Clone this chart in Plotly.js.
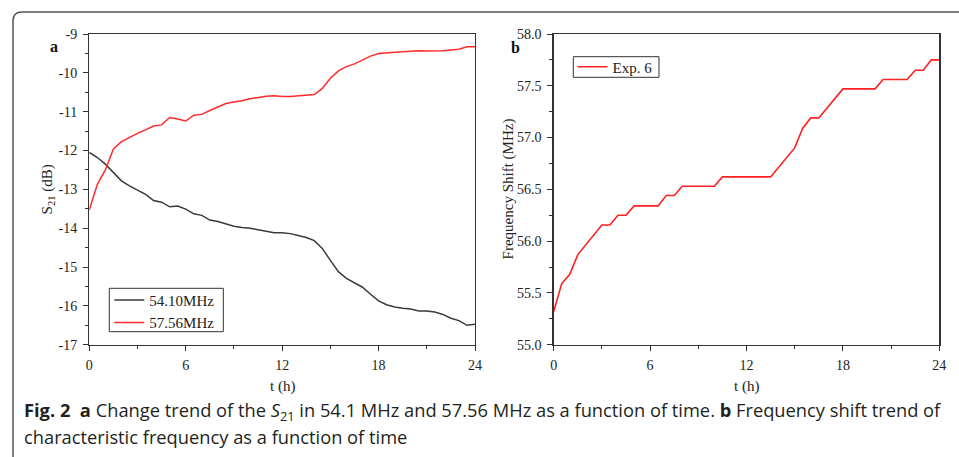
<!DOCTYPE html>
<html>
<head>
<meta charset="utf-8">
<script src="https://cdn.plot.ly/plotly-3.0.1.min.js"></script>
<style>html,body{margin:0;padding:0;background:#fff;}#chart{width:959px;height:457px;}</style>
</head>
<body>
<div id="chart"></div>
<script>
// ---- data ----
const timeHalfHours = [0,0.5,1,1.5,2,2.5,3,3.5,4,4.5,5,5.5,6,6.5,7,7.5,8,8.5,9,9.5,10,10.5,11,11.5,12,12.5,13,13.5,14,14.5,15,15.5,16,16.5,17,17.5,18,18.5,19,19.5,20,20.5,21,21.5,22,22.5,23,23.5,24];
const s21_5410 = [-12.05,-12.18,-12.35,-12.57,-12.78,-12.91,-13.02,-13.13,-13.29,-13.33,-13.45,-13.43,-13.51,-13.63,-13.67,-13.79,-13.83,-13.90,-13.95,-13.98,-14.00,-14.04,-14.08,-14.12,-14.12,-14.14,-14.19,-14.24,-14.32,-14.52,-14.83,-15.12,-15.29,-15.40,-15.52,-15.70,-15.87,-15.97,-16.03,-16.06,-16.08,-16.13,-16.13,-16.16,-16.22,-16.32,-16.38,-16.50,-16.47];
const s21_5756 = [-13.53,-12.87,-12.50,-11.96,-11.77,-11.66,-11.56,-11.47,-11.37,-11.34,-11.15,-11.19,-11.24,-11.09,-11.07,-10.97,-10.88,-10.79,-10.75,-10.72,-10.67,-10.63,-10.60,-10.59,-10.61,-10.61,-10.59,-10.58,-10.56,-10.40,-10.14,-9.95,-9.84,-9.77,-9.67,-9.57,-9.50,-9.48,-9.47,-9.46,-9.45,-9.43,-9.44,-9.44,-9.43,-9.41,-9.39,-9.33,-9.33];

const timeExp6 = [0,0.5,1,1.5,3,3.5,4,4.5,5,6.5,7,7.5,8,10,10.5,13.5,15,15.5,16,16.5,18,20,20.5,22,22.5,23,23.5,24];
const freqExp6 = [55.32,55.59,55.68,55.87,56.156,56.156,56.25,56.25,56.34,56.34,56.44,56.44,56.53,56.53,56.62,56.62,56.90,57.09,57.19,57.19,57.47,57.47,57.56,57.56,57.65,57.65,57.75,57.75];

const xTickVals = [0,6,12,18,24];
const s21TickVals = [-17,-16,-15,-14,-13,-12,-11,-10,-9];
const s21TickText = ['-17','-16','-15','-14','-13','-12','-11','-10','-9'];
const freqTickVals = [55,55.5,56,56.5,57,57.5,58];
const freqTickText = ['55.0','55.5','56.0','56.5','57.0','57.5','58.0'];

// ---- layout helpers ----
const W = 959, H = 457;
const px = v => v / W;
const py = v => 1 - v / H;

const serif = '"Liberation Serif", "Times New Roman", serif';
const axisCol = '#333333';
const tickFont = {family: serif, size: 14, color: '#222'};

function xAxis(domain, anchor) {
  return {
    domain: domain, anchor: anchor, range: [0, 24],
    tickmode: 'array', tickvals: xTickVals,
    ticks: 'outside', ticklen: 5, tickwidth: 1, tickcolor: axisCol,
    showline: true, linecolor: axisCol, linewidth: 1.3, mirror: true,
    showgrid: false, zeroline: false,
    tickfont: tickFont, ticklabelstandoff: 2,
    minor: {dtick: 3, tick0: 0, ticks: 'outside', ticklen: 3, tickwidth: 1, tickcolor: axisCol, showgrid: false}
  };
}
function yAxis(domain, anchor, range, vals, text, minorStep) {
  return {
    domain: domain, anchor: anchor, range: range,
    tickmode: 'array', tickvals: vals, ticktext: text,
    ticks: 'outside', ticklen: 5, tickwidth: 1, tickcolor: axisCol,
    showline: true, linecolor: axisCol, linewidth: 1.3, mirror: true,
    showgrid: false, zeroline: false,
    tickfont: tickFont, ticklabelstandoff: 3,
    minor: {dtick: minorStep, tick0: range[0], ticks: 'outside', ticklen: 3, tickwidth: 1, tickcolor: axisCol, showgrid: false}
  };
}

const yDom = [py(344.7), py(34)];

const traces = [
  {x: timeHalfHours, y: s21_5410, type: 'scatter', mode: 'lines', name: '54.10MHz',
   line: {color: '#3a3a3a', width: 1.5}, xaxis: 'x', yaxis: 'y', legend: 'legend'},
  {x: timeHalfHours, y: s21_5756, type: 'scatter', mode: 'lines', name: '57.56MHz',
   line: {color: '#ff2a2a', width: 1.5}, xaxis: 'x', yaxis: 'y', legend: 'legend'},
  {x: timeExp6, y: freqExp6, type: 'scatter', mode: 'lines', name: 'Exp. 6',
   line: {color: '#ff2020', width: 1.6}, xaxis: 'x2', yaxis: 'y2', legend: 'legend2'}
];

const capFont = {family: '"Open Sans", sans-serif', size: 18.3, color: '#231f20'};

function ann(text, x, y, extra) {
  return Object.assign({text: text, x: px(x), y: py(y), xref: 'paper', yref: 'paper',
    xanchor: 'center', yanchor: 'middle', showarrow: false,
    font: {family: serif, size: 15, color: '#222'}}, extra || {});
}
function box(x0, y0, x1, y1) {
  return {type: 'rect', xref: 'paper', yref: 'paper', x0: px(x0), x1: px(x1), y0: py(y1), y1: py(y0),
    line: {color: axisCol, width: 1}, fillcolor: '#fff', layer: 'above'};
}

const layout = {
  width: W, height: H,
  margin: {l: 0, r: 0, t: 0, b: 0},
  paper_bgcolor: '#fff', plot_bgcolor: '#fff',
  font: {family: serif, size: 14, color: '#222'},
  showlegend: true,
  xaxis: xAxis([px(89.3), px(475)], 'y'),
  yaxis: yAxis(yDom, 'x', [-17, -9], s21TickVals, s21TickText, 0.5),
  xaxis2: xAxis([px(553.7), px(939.3)], 'y2'),
  yaxis2: yAxis(yDom, 'x2', [55, 58], freqTickVals, freqTickText, 0.25),
  legend: {x: px(109.3), y: py(311.2), xanchor: 'left', yanchor: 'middle',
    bgcolor: 'rgba(0,0,0,0)', borderwidth: 0,
    font: {family: serif, size: 15, color: '#222'}, tracegroupgap: 0},
  legend2: {x: px(572.5), y: py(67), xanchor: 'left', yanchor: 'middle',
    bgcolor: 'rgba(0,0,0,0)', borderwidth: 0,
    font: {family: serif, size: 15, color: '#222'}, tracegroupgap: 0},
  shapes: [
    {type: 'path', xref: 'paper', yref: 'paper',
     path: `M ${px(13)} ${py(457)} L ${px(13)} ${py(21)} Q ${px(13)} ${py(12)} ${px(22)} ${py(12)} L ${px(959)} ${py(12)}`,
     line: {color: '#555', width: 1.5}},
    box(109.3, 288.3, 223.3, 331.7),
    box(573.3, 56.7, 659, 77.3)
  ],
  annotations: [
    ann('<b>a</b>', 54.3, 46, {font: {family: serif, size: 16, color: '#111'}}),
    ann('<b>b</b>', 515, 48, {font: {family: serif, size: 16, color: '#111'}}),
    ann('t (h)', 282, 386),
    ann('t (h)', 746.7, 386),
    ann('S<sub>21</sub> (dB)', 48, 189.4, {textangle: -90}),
    ann('Frequency Shift (MHz)', 508, 189.4, {textangle: -90}),
    ann('<b>Fig. 2</b>\u00a0 <b>a</b> Change trend of the <i>S</i><sub>21</sub> in 54.1 MHz and 57.56 MHz as a function of time. <b>b</b> Frequency shift trend of',
        22, 411, {xanchor: 'left', font: capFont}),
    ann('characteristic frequency as a function of time', 22, 436, {xanchor: 'left', font: capFont})
  ]
};

Plotly.newPlot('chart', traces, layout, {displayModeBar: false, staticPlot: true});
</script>
</body>
</html>
